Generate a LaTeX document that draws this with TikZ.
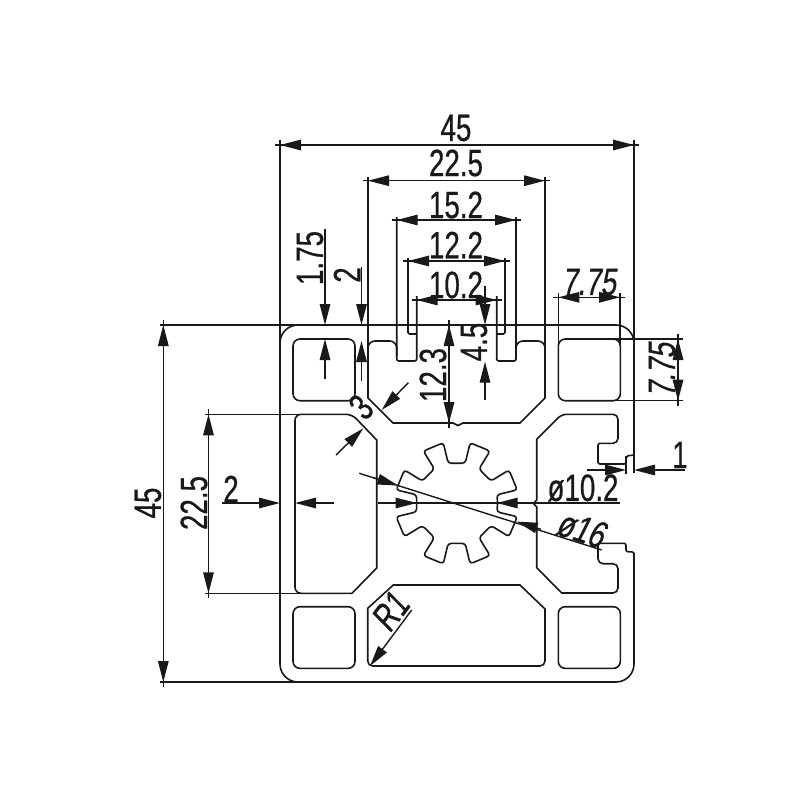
\documentclass[tikz,border=0pt]{standalone}
\usepackage{fontspec}
\usetikzlibrary{arrows.meta}
\newfontfamily\dimfont[FakeStretch=0.73,FakeBold=0.6]{Liberation Sans}
\newfontfamily\dimslant[FakeStretch=0.73,FakeSlant=0.15,FakeBold=0.6]{Liberation Sans}
\tikzset{
    outline/.style = {draw, line width=1.6pt, black!90},
    dimline/.style = {draw, line width=1.4pt, black!90},
    dimtip/.style = {dimline, -{Triangle[length=21pt,width=10.5pt]}},
    dimtext/.style = {inner sep=0pt, font=\dimfont\fontsize{38}{38}\selectfont, text=black!90},
    slanttext/.style = {dimtext, font=\dimslant\fontsize{38}{38}\selectfont}
}
\begin{document}
\begin{tikzpicture}[x=1pt,y=-1pt]
        \useasboundingbox (0,0) rectangle (800,800);
        % outer wall
        \draw [outline,rounded corners=18pt] (280,140) -- (280,682) -- (634,682) -- (634,553);
        \draw [outline,rounded corners=18pt] (280,350) -- (280,325) -- (305,325);
        \draw [outline,rounded corners=18pt] (610,325) -- (634,325) -- (634,350);
        \draw [outline] (634,140) -- (634,473);
        \draw [outline] (160,325) -- (616,325);
        \draw [outline] (160,682) -- (298,682);
        % corner holes
        \foreach \hx/\hy in {293/339,558.3/339,293/606.7,558.3/606.7}{
            \draw [outline,rounded corners=7pt] (\hx,\hy) rectangle +(62,61.7);
        }
        % slot on the right side
        \draw [outline] (634,455) [rounded corners=2pt] -- (626,456) -- (626,464) -- (598,464) -- (598,443.3) [rounded corners=5pt] -- (618,443.3) -- (618,414.3) -- (561.7,414.3) [sharp corners] -- (536.7,439.3) -- (536.7,500) -- (533.5,503.5) -- (536.7,507) -- (536.7,567.7) -- (561.7,593) [rounded corners=5pt] -- (618,593) -- (618,563.7) -- (598,563.7) [rounded corners=2pt] -- (598,543.3) -- (626,543.3) -- (626,551.7) -- (634,552) -- (634,556);
        \draw [outline] (626,456) -- (626,474);
        % left cavity
        \draw [outline] (295,500) [rounded corners=6pt] -- (295,414.3) -- (352,414.3) [sharp corners] -- (376.7,440) -- (376.7,568) -- (352,593.3) [rounded corners=6pt] -- (295,593.3) -- cycle;
        \draw [outline] (205,414.3) -- (300,414.3);
        \draw [outline] (205,593.3) -- (300,593.3);
        % bottom cavity
        \draw [outline] (367.7,640) -- (367.7,608.3) -- (393.3,585) -- (520,585) -- (545,609) [rounded corners=5pt] -- (545,666) -- (367.7,666) -- cycle;
        % top slot
        \draw [outline] (368,177) -- (368,398) -- (393,423) -- (453,423) -- (458,425.5) -- (463,423) -- (520,423) -- (545,398) -- (545,177);
        \draw [outline,rounded corners=7pt] (396.7,356) -- (396.7,341) -- (368,341) -- (368,356);
        \draw [outline,rounded corners=7pt] (516,356) -- (516,341) -- (545,341) -- (545,356);
        \draw [outline,rounded corners=2pt] (396.7,217) -- (396.7,361) -- (416.7,361) -- (416.7,296);
        \draw [outline,rounded corners=2pt] (516,217) -- (516,361) -- (496.7,361) -- (496.7,296);
        \draw [outline,rounded corners=1.5pt] (408,258) -- (408,334) -- (416.7,334);
        \draw [outline,rounded corners=1.5pt] (505,258) -- (505,334) -- (496.7,334);
        % centre bore with teeth
        \begin{scope}[shift={(456.7,503.3)}]
            \draw [outline,rounded corners=3pt] (0:41) \foreach \a in {0,45,...,315}{
                -- (\a+12:41) -- (\a+12.5:62) -- (\a+32.5:62) -- (\a+33:41)
            } -- cycle;
        \end{scope}
        % extension lines
        \draw [dimline] (605,339) -- (683,339);
        \draw [dimline] (605,400.7) -- (683,400.7);
        \draw [dimline] (558.3,293) -- (558.3,345);
        \draw [dimline] (620,293) -- (620,345);
        % dimensions with the arrows inside
        \foreach \yy/\xa/\xb in {145/280/634,180.7/368/545,220/396.7/516,261/408/505,300/416.7/496.7,297.3/558.3/620}{
            \draw [dimline] (\xa-5,\yy) -- (\xb+5,\yy);
            \draw [dimtip] (\xa+24,\yy) -- (\xa,\yy);
            \draw [dimtip] (\xb-24,\yy) -- (\xb,\yy);
        }
        \foreach \xx/\ya/\yb in {163.3/325/682,208.5/414.3/593.3,678/339/400.7,449/325/423}{
            \draw [dimline] (\xx,\ya-5) -- (\xx,\yb+5);
            \draw [dimtip] (\xx,\ya+24) -- (\xx,\ya);
            \draw [dimtip] (\xx,\yb-24) -- (\xx,\yb);
        }
        % dimensions with the arrows outside
        \foreach \xx/\ya/\yb/\yc/\yd in {325/229/325/339/379,361.5/267/325/341/381,485/286/325/361.7/400}{
            \draw [dimtip] (\xx,\ya) -- (\xx,\yb);
            \draw [dimtip] (\xx,\yd) -- (\xx,\yc);
        }
        \foreach \yy/\xa/\xb/\xc/\xd in {503/222/280/295/334,470/587/626/634/685}{
            \draw [dimtip] (\xa,\yy) -- (\xb,\yy);
            \draw [dimtip] (\xd,\yy) -- (\xc,\yy);
        }
        % slanted dimensions
        \draw [dimtip] (336,455) -- (363.3,428.3);
        \draw [dimtip] (408.3,382.7) -- (381.7,410);
        \draw [dimtip] (411.7,610) -- (370,666);
        \draw [dimline] (378,503) -- (620,503);
        \draw [dimtip] (392,503) -- (416.7,503);
        \draw [dimtip] (521,503) -- (496.7,503);
        \draw [dimline] (359.3,473.3) -- (601.7,550);
        \draw [dimtip] (373,477.6) -- (398.3,485.6);
        \draw [dimtip] (541,529.3) -- (516.7,521.6);
        % labels
        \node [dimtext] (widthtotal) at (456,128) {45};
        \node [dimtext] (widthhalf) at (456,163) {22.5};
        \node [dimtext] (slotouter) at (456,205) {15.2};
        \node [dimtext] (slotmid) at (456,245) {12.2};
        \node [dimtext] (slotneck) at (456,285) {10.2};
        \node [dimtext,rotate=90] (lipwall) at (310,258) {1.75};
        \node [dimtext,rotate=90] (lipgap) at (347,275) {2};
        \node [slanttext] (holewidth) at (589,282) {7.75};
        \node [slanttext,rotate=90] (holeheight) at (662,370) {7.75};
        \node [dimtext,rotate=90] (neckdepth) at (474,342) {4.5};
        \node [dimtext,rotate=90] (slotdepth) at (433,375) {12.3};
        \node [dimtext,rotate=45] (chamfer) at (361,407) {3};
        \node [dimtext,rotate=90] (heighttotal) at (148,503) {45};
        \node [dimtext,rotate=90] (heighthalf) at (194,503) {22.5};
        \node [dimtext] (wallleft) at (231,489) {2};
        \node [dimtext] (wallright) at (680,455) {1};
        \node [dimtext] (boreinner) at (583,488) {ø10.2};
        \node [slanttext,rotate=-18] (boreouter) at (581,529) {ø16};
        \node [slanttext,rotate=53] (radius) at (390,612) {R1};
\end{tikzpicture}
\end{document}
